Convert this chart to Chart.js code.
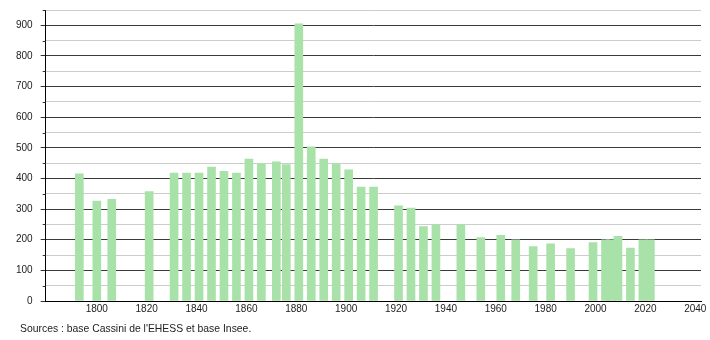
<!DOCTYPE html>
<html>
<head>
<meta charset="utf-8">
<script src="https://cdn.jsdelivr.net/npm/chart.js@4.4.1/dist/chart.umd.min.js"></script>
<style>
  html, body { margin: 0; padding: 0; background: #fff; }
  #wrap { position: relative; width: 710px; height: 340px; }
  #source {
    position: absolute; left: 20px; top: 323px;
    font: 10.4px "Liberation Sans", Arial, sans-serif; color: #222;
    white-space: nowrap;
  }
</style>
</head>
<body>
<div id="wrap">
  <canvas id="chart" width="710" height="340"></canvas>
  <div id="source">Sources : base Cassini de l'EHESS et base Insee.</div>
</div>
<script>
// Census years and population
const years = [1793, 1800, 1806, 1821, 1831, 1836, 1841, 1846, 1851, 1856,
  1861, 1866, 1872, 1876, 1881, 1886, 1891, 1896, 1901, 1906,
  1911, 1921, 1926, 1931, 1936, 1946, 1954, 1962, 1968, 1975,
  1982, 1990, 1999, 2004, 2006, 2009, 2014, 2019, 2022];
const population = [415, 326, 332, 357, 418, 418, 418, 437, 423, 418,
  463, 448, 454, 445, 905, 503, 463, 448, 428, 372,
  372, 311, 303, 243, 249, 249, 207, 214, 200, 178,
  187, 171, 191, 200, 200, 211, 173, 200, 200];

// Axis ticks
const xTicks = [1800, 1820, 1840, 1860, 1880, 1900, 1920, 1940, 1960, 1980, 2000, 2020, 2040];
const yMax = 950;

const FONT = '"Liberation Sans", Arial, sans-serif';

// Short tick marks for the 50-steps on the y axis
const minorTicks = {
  id: 'minorTicks',
  afterDraw(chart) {
    const y = chart.scales.y;
    const ctx = chart.ctx;
    ctx.save();
    ctx.strokeStyle = '#333';
    ctx.lineWidth = 1;
    y.ticks.forEach(t => {
      if (t.value % 100 === 0) return;
      const py = Math.round(y.getPixelForValue(t.value)) + 0.5;
      ctx.beginPath();
      ctx.moveTo(y.right - 3, py);
      ctx.lineTo(y.right, py);
      ctx.stroke();
    });
    ctx.restore();
  }
};

new Chart(document.getElementById('chart'), {
  type: 'bar',
  data: {
    datasets: [{
      data: years.map((yr, i) => ({ x: yr, y: population[i] })),
      backgroundColor: '#a9e2a9',
      borderWidth: 0,
      barThickness: 8
    }]
  },
  options: {
    responsive: false,
    animation: false,
    layout: { padding: { left: 8, right: 9, top: 10, bottom: 23 } },
    plugins: {
      legend: { display: false },
      tooltip: { enabled: false }
    },
    scales: {
      x: {
        type: 'linear',
        offset: false,
        min: 1779.5,
        max: 2042.3,
        afterBuildTicks: scale => { scale.ticks = xTicks.map(v => ({ value: v })); },
        grid: { display: false, drawTicks: false },
        border: { display: true, color: '#000', width: 1 },
        ticks: {
          padding: 2,
          color: '#222',
          font: { family: FONT, size: 10 },
          maxRotation: 0,
          autoSkip: false,
          callback: v => String(v)
        }
      },
      y: {
        min: 0,
        max: yMax,
        // top tick has no label, so no extra room is needed above it
        afterFit: scale => { scale.paddingTop = 0; },
        grid: {
          color: c => (c.tick && c.tick.value % 100 === 0) ? '#3a3a3a' : '#cccccc',
          tickColor: c => (c.tick && c.tick.value % 100 === 0) ? '#333' : 'rgba(0,0,0,0)',
          tickLength: 5,
          lineWidth: 1
        },
        border: { display: true, color: '#000', width: 1 },
        ticks: {
          stepSize: 50,
          autoSkip: false,
          padding: 8,
          color: '#222',
          font: { family: FONT, size: 10 },
          callback: v => (v % 100 === 0 ? String(v) : '')
        }
      }
    }
  },
  plugins: [minorTicks]
});
</script>
</body>
</html>
